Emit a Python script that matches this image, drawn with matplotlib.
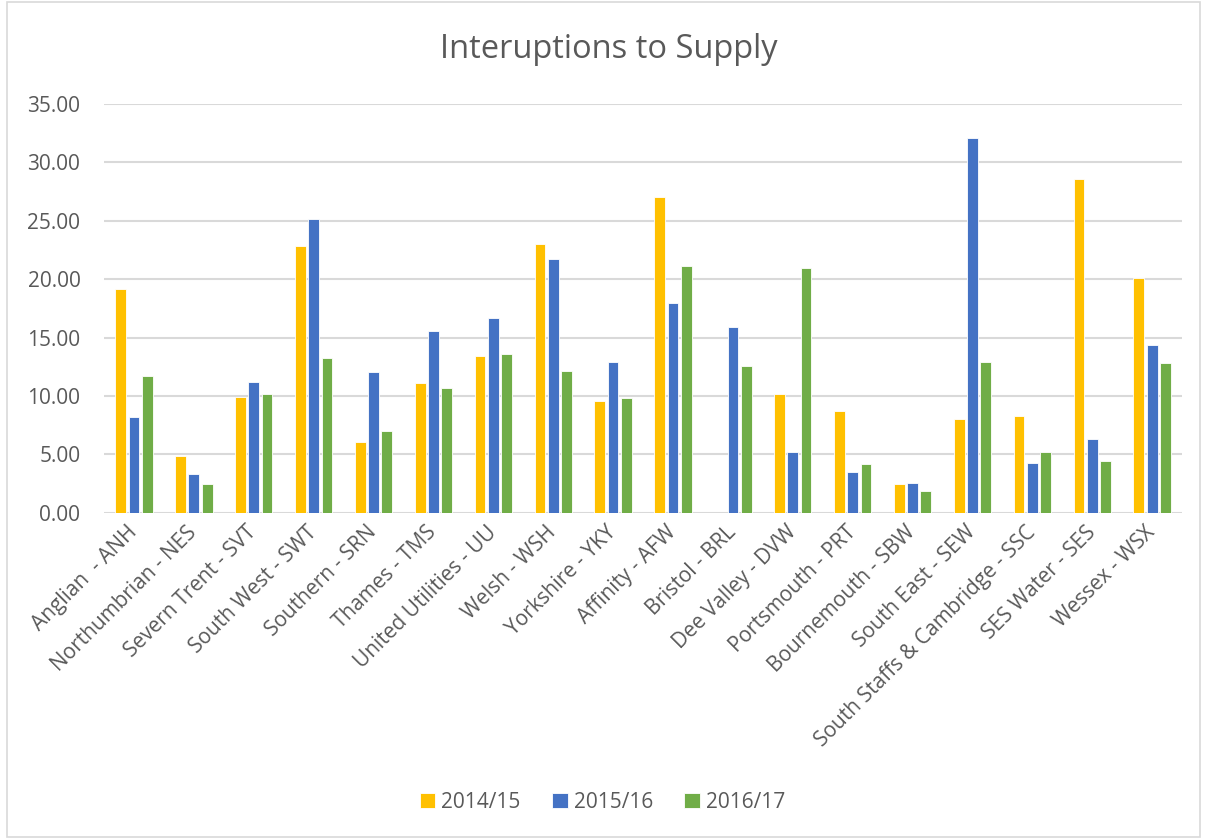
import numpy as np
import matplotlib.pyplot as plt
from matplotlib.patches import Rectangle

plt.rcParams['font.family'] = ['Open Sans', 'DejaVu Sans']

companies = ["Anglian  - ANH", "Northumbrian - NES", "Severn Trent - SVT",
             "South West - SWT", "Southern - SRN", "Thames - TMS",
             "United Utilities - UU", "Welsh - WSH", "Yorkshire - YKY",
             "Affinity - AFW", "Bristol - BRL", "Dee Valley - DVW",
             "Portsmouth - PRT", "Bournemouth - SBW", "South East - SEW",
             "South Staffs & Cambridge - SSC", "SES Water - SES", "Wessex - WSX"]
years = ["2014/15", "2015/16", "2016/17"]

y2014 = [19.16, 4.83, 9.91, 22.87, 6.03, 11.10, 13.42, 22.98, 9.59,
         27.06, np.nan, 10.19, 8.74, 2.43, 8.05, 8.31, 28.58, 20.13]
y2015 = [8.20, 3.34, 11.17, 25.15, 12.02, 15.56, 16.70, 21.73, 12.88,
         17.93, 15.88, 5.20, 3.51, 2.54, 32.06, 4.23, 6.31, 14.33]
y2016 = [11.70, 2.43, 10.14, 13.28, 7.00, 10.65, 13.56, 12.13, 9.80,
         21.13, 12.56, 20.98, 4.14, 1.88, 12.90, 5.20, 4.40, 12.82]

colors = ["#FFC000", "#4472C4", "#70AD47"]
txt = "#595959"

fig = plt.figure(figsize=(12.05, 8.39), dpi=100)
ax = fig.add_axes([0.0863, 0.389, 0.8947, 0.487])

x = np.arange(len(companies))
w = 0.18
for i, (vals, c, lab) in enumerate(zip([y2014, y2015, y2016], colors, years)):
    ax.bar(x + (i - 1) * 0.222, vals, w, color=c, label=lab,
           edgecolor="white", linewidth=0.6, zorder=3)

ax.set_xlim(-0.5, len(companies) - 0.5)
ax.set_ylim(0, 35)
ax.set_yticks(np.arange(0, 36, 5))
ax.set_yticklabels(["%.2f" % v for v in np.arange(0, 36, 5)])
ax.grid(axis="y", color="#D9D9D9", linewidth=1.5, zorder=0)
for s in ["top", "right", "left", "bottom"]:
    ax.spines[s].set_visible(False)
ax.tick_params(axis="y", length=0, pad=17, labelsize=15, labelcolor=txt)
ax.tick_params(axis="x", length=0, pad=12, labelsize=15, labelcolor=txt)
ax.set_xticks(x)
ax.set_xticklabels(companies, rotation=45, ha="right", va="center",
                   rotation_mode="anchor")

fig.text(0.505, 1 - 50 / 839, "Interuptions to Supply", ha="center",
         va="center", fontsize=23.5, color=txt)

fig.legend(loc="center", bbox_to_anchor=(0.5, 1 - 802 / 839), ncol=3,
           frameon=False, fontsize=15, labelcolor=txt, handlelength=0.75,
           handleheight=0.75, handletextpad=0.3, columnspacing=1.5)

fig.patches.append(Rectangle((0.006, 0.002), 0.99, 0.996, transform=fig.transFigure,
                             fill=False, edgecolor="#D9D9D9", linewidth=1.2))

fig.savefig("out.png", dpi=100)
